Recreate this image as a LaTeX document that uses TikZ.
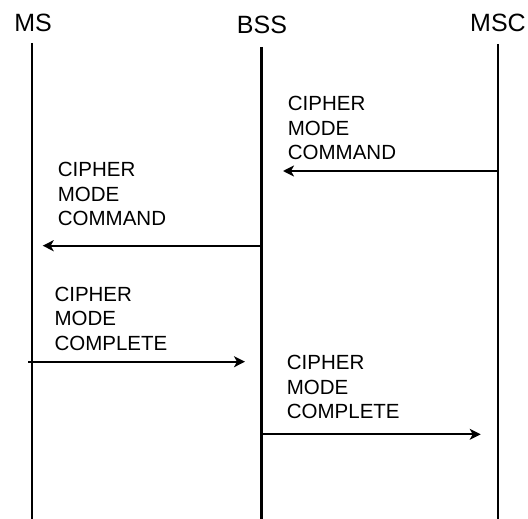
\documentclass[tikz,border=0pt]{standalone}
\usepackage{fontspec}
\setmainfont{Liberation Sans}
\usetikzlibrary{arrows.meta}

\begin{document}
\begin{tikzpicture}[
    x=1pt, y=-1pt,
    head/.style={font=\fontsize{25}{30}\selectfont, inner sep=0pt, anchor=base},
    msg/.style={font=\fontsize{20.5}{24.5}\selectfont, align=left, inner sep=0pt, anchor=north west},
    lifeline/.style={line width=2.2pt},
    arrow/.style={-{Stealth[length=11pt, width=11pt, inset=3pt]}, line width=2.2pt}
]
    \useasboundingbox (0,0) rectangle (528,519);

    \node[head] (ms) at (33,32) {MS};
    \node[head] (bss) at (262,34) {BSS};
    \node[head] (msc) at (498,32) {MSC};

    \coordinate (ms-top) at (32,43);
    \coordinate (ms-end) at (32,519);
    \coordinate (bss-top) at (261.5,47);
    \coordinate (bss-end) at (261.5,519);
    \coordinate (msc-top) at (498,44);
    \coordinate (msc-end) at (498,519);

    \draw[lifeline] (ms-top) -- (ms-end);
    \draw[lifeline] (bss-top) -- (bss-end);
    \draw[lifeline] (msc-top) -- (msc-end);

    \node[msg] (cmd1) at (287.7,96) {CIPHER\\MODE\\COMMAND};
    \node[msg] (cmd2) at (57.7,162) {CIPHER\\MODE\\COMMAND};
    \node[msg] (cpl1) at (54.3,286.7) {CIPHER\\MODE\\COMPLETE};
    \node[msg] (cpl2) at (286.7,355) {CIPHER\\MODE\\COMPLETE};

    \coordinate (cmd1-from) at (498,171);
    \coordinate (cmd1-to) at (283,171);
    \coordinate (cmd2-from) at (261.5,245.7);
    \coordinate (cmd2-to) at (42.7,245.7);
    \coordinate (cpl1-from) at (28.3,361.7);
    \coordinate (cpl1-to) at (245,361.7);
    \coordinate (cpl2-from) at (261.5,434.3);
    \coordinate (cpl2-to) at (480.7,434.3);

    \draw[arrow] (cmd1-from) -- (cmd1-to);
    \draw[arrow] (cmd2-from) -- (cmd2-to);
    \draw[arrow] (cpl1-from) -- (cpl1-to);
    \draw[arrow] (cpl2-from) -- (cpl2-to);
\end{tikzpicture}
\end{document}
